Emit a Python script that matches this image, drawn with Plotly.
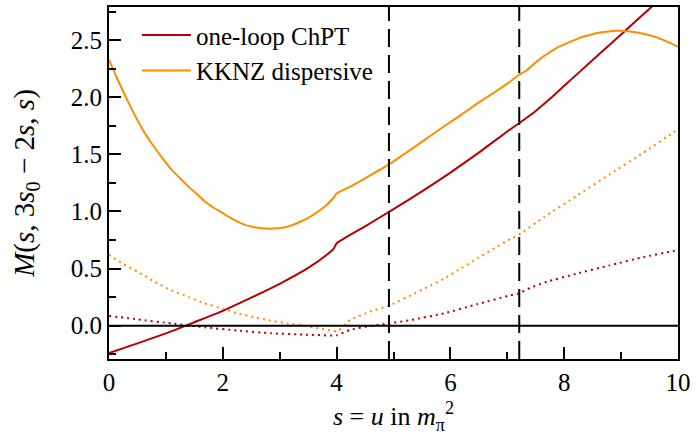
import plotly.graph_objects as go

# one-loop ChPT (solid)
s_chpt = [0.0, 0.5, 1.0, 1.35, 1.5, 2.0, 2.5, 3.0, 3.5, 3.8, 3.95, 4.0, 4.5, 5.0, 5.5, 6.0, 6.5, 7.0, 7.2, 7.5, 7.76, 8.0, 8.5, 9.0, 9.5, 10.0]
m_chpt = [-0.24, -0.155, -0.068, 0.0, 0.03, 0.13, 0.245, 0.366, 0.505, 0.61, 0.675, 0.722, 0.87, 1.02, 1.175, 1.34, 1.515, 1.70, 1.77, 1.88, 1.99, 2.10, 2.325, 2.55, 2.775, 3.0]

# KKNZ dispersive (solid)
s_kknz = [0.0, 0.12, 0.25, 0.38, 0.51, 0.65, 0.8, 0.95, 1.09, 1.25, 1.4, 1.55, 1.68, 1.85, 2.0, 2.13, 2.26, 2.4, 2.55, 2.7, 2.83, 2.97, 3.1, 3.22, 3.34, 3.45, 3.55, 3.68, 3.8, 3.91, 3.97, 4.0, 4.25, 4.5, 4.94, 5.31, 5.6, 5.89, 6.2, 6.48, 6.78, 7.06, 7.2, 7.33, 7.45, 7.6, 7.76, 7.9, 8.05, 8.2, 8.33, 8.48, 8.63, 8.78, 8.92, 9.06, 9.21, 9.35, 9.5, 9.65, 9.79, 9.9, 10.0]
m_kknz = [2.33, 2.19, 2.05, 1.915, 1.79, 1.67, 1.56, 1.46, 1.37, 1.29, 1.215, 1.15, 1.09, 1.03, 0.985, 0.945, 0.91, 0.88, 0.862, 0.852, 0.848, 0.852, 0.862, 0.88, 0.905, 0.93, 0.958, 1.0, 1.045, 1.1, 1.135, 1.157, 1.22, 1.29, 1.418, 1.543, 1.645, 1.746, 1.85, 1.948, 2.045, 2.14, 2.195, 2.232, 2.285, 2.345, 2.398, 2.44, 2.474, 2.505, 2.529, 2.55, 2.566, 2.576, 2.581, 2.58, 2.572, 2.56, 2.543, 2.52, 2.491, 2.467, 2.44]

# one-loop ChPT (dotted)
s_chpt_d = [0.0, 0.51, 1.09, 1.68, 2.26, 2.84, 3.42, 3.95, 4.0, 4.24, 4.59, 4.93, 5.31, 5.89, 6.48, 7.06, 7.2, 7.4, 7.7, 8.22, 8.80, 9.39, 9.91, 10.0]
m_chpt_d = [0.085, 0.055, 0.02, -0.014, -0.043, -0.066, -0.078, -0.087, -0.085, -0.037, -0.003, 0.02, 0.05, 0.108, 0.189, 0.267, 0.282, 0.33, 0.385, 0.456, 0.528, 0.60, 0.652, 0.66]

# KKNZ dispersive (dotted)
s_kknz_d = [0.0, 0.25, 0.51, 0.8, 1.09, 1.4, 1.68, 2.0, 2.26, 2.55, 2.84, 3.13, 3.42, 3.7, 3.95, 4.02, 4.24, 4.59, 4.94, 5.31, 5.6, 5.89, 6.2, 6.48, 6.78, 7.06, 7.2, 7.64, 8.22, 8.80, 9.39, 9.91, 10.0]
m_kknz_d = [0.62, 0.54, 0.47, 0.385, 0.31, 0.25, 0.195, 0.148, 0.108, 0.074, 0.044, 0.02, 0.0, -0.025, -0.046, -0.048, 0.05, 0.122, 0.18, 0.267, 0.338, 0.412, 0.505, 0.59, 0.68, 0.76, 0.795, 0.948, 1.137, 1.325, 1.514, 1.688, 1.72]

x_ticks = [0, 2, 4, 6, 8, 10]
y_ticks = [0.0, 0.5, 1.0, 1.5, 2.0, 2.5]
vlines = [4.92, 7.21]

RED = "#b40000"
ORANGE = "#ff8c00"
FONT = "Liberation Serif, Times New Roman, serif"
FS = 25

fig = go.Figure()
fig.add_trace(go.Scatter(x=s_chpt, y=m_chpt, mode="lines", name="one-loop ChPT",
                         line=dict(color=RED, width=2, shape="spline", smoothing=0.4)))
fig.add_trace(go.Scatter(x=s_kknz, y=m_kknz, mode="lines", name="KKNZ dispersive",
                         line=dict(color=ORANGE, width=2, shape="spline", smoothing=0.4)))
fig.add_trace(go.Scatter(x=s_chpt_d, y=m_chpt_d, mode="lines", showlegend=False,
                         line=dict(color=RED, width=2, dash="2px,4px", shape="spline", smoothing=0.4)))
fig.add_trace(go.Scatter(x=s_kknz_d, y=m_kknz_d, mode="lines", showlegend=False,
                         line=dict(color=ORANGE, width=2, dash="2px,4px", shape="spline", smoothing=0.4)))

fig.add_hline(y=0, line=dict(color="black", width=2))
for v in vlines:
    fig.add_vline(x=v, line=dict(color="black", width=2, dash="18px,8px"))

fig.update_layout(
    width=696, height=440,
    margin=dict(l=109, r=14, t=5, b=81),
    paper_bgcolor="white", plot_bgcolor="white",
    font=dict(family=FONT, size=FS, color="black"),
    legend=dict(x=0.049, y=0.985, xanchor="left", yanchor="top",
                bgcolor="rgba(0,0,0,0)", borderwidth=0,
                font=dict(family=FONT, size=FS, color="black"), itemwidth=49, tracegroupgap=0),
    showlegend=True,
)
fig.update_xaxes(
    range=[0, 10], tickvals=x_ticks, ticktext=[str(t) for t in x_ticks],
    tickfont=dict(family=FONT, size=FS, color="black"),
    ticks="inside", ticklen=12, tickwidth=2, tickcolor="black",
    minor=dict(dtick=1, tick0=0, ticks="inside", ticklen=7, tickwidth=2, tickcolor="black"),
    showline=True, linecolor="black", linewidth=2, mirror=True,
    showgrid=False, zeroline=False,
    title=dict(text="<i>s</i> = <i>u</i> in <i>m</i><sub>π</sub><sup>2</sup>", standoff=12,
               font=dict(family=FONT, size=FS + 1, color="black")),
)
fig.update_yaxes(
    range=[-0.292, 2.79], tickvals=y_ticks, ticktext=[f"{t:.1f}" for t in y_ticks],
    tickfont=dict(family=FONT, size=FS, color="black"),
    ticks="inside", ticklen=12, tickwidth=2, tickcolor="black",
    minor=dict(dtick=0.25, tick0=0, ticks="inside", ticklen=7, tickwidth=2, tickcolor="black"),
    showline=True, linecolor="black", linewidth=2, mirror=True,
    showgrid=False, zeroline=False,
    title=dict(text="<i>M</i>(<i>s</i>, 3<i>s</i><sub>0</sub> − 2<i>s</i>, <i>s</i>)", standoff=28,
               font=dict(family=FONT, size=FS + 4, color="black")),
)

fig.write_html("out.html", config={"displayModeBar": False},
               post_script="document.body.style.margin='0';")
